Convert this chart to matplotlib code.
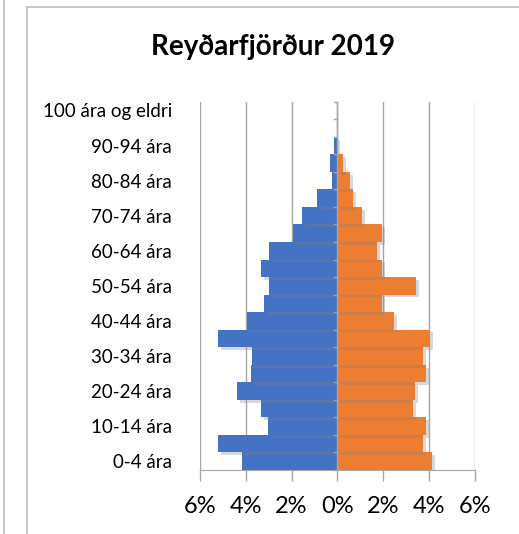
import numpy as np
import matplotlib.pyplot as plt
import matplotlib.patheffects as pe
from matplotlib.lines import Line2D

plt.rcParams['font.family'] = ['Lato', 'DejaVu Sans']

# aldursflokkar, neðst til efst
aldur = ["0-4 ára", "5-9 ára", "10-14 ára", "15-19 ára", "20-24 ára", "25-29 ára",
         "30-34 ára", "35-39 ára", "40-44 ára", "45-49 ára", "50-54 ára", "55-59 ára",
         "60-64 ára", "65-69 ára", "70-74 ára", "75-79 ára", "80-84 ára", "85-89 ára",
         "90-94 ára", "95-99 ára", "100 ára og eldri"]
# hlutfall af íbúafjölda (%)
karlar = [4.17, 5.22, 3.03, 3.34, 4.39, 3.78, 3.73, 5.22, 3.95, 3.21, 2.99, 3.34,
          2.99, 1.94, 1.55, 0.89, 0.23, 0.32, 0.14, 0.0, 0.0]
konur = [4.13, 3.75, 3.87, 3.31, 3.40, 3.87, 3.75, 4.04, 2.47, 1.96, 3.44, 1.96,
         1.74, 1.96, 1.08, 0.69, 0.56, 0.25, 0.0, 0.0, 0.0]
xticks = [-6, -4, -2, 0, 2, 4, 6]

fig = plt.figure(figsize=(5.19, 5.34), dpi=100)
ax = fig.add_axes([0.3854, 0.1199, 0.5292, 0.6897])

y = np.arange(len(aldur))
shadow = [pe.SimplePatchShadow(offset=(2, -2), shadow_rgbFace='#808080', alpha=0.3), pe.Normal()]
ax.barh(y, [-v for v in karlar], height=1.0, color='#4472C4', zorder=3, path_effects=shadow)
ax.barh(y, konur, height=1.0, color='#ED7D31', zorder=3, path_effects=shadow)

ax.set_xlim(-6, 6)
ax.set_ylim(-0.5, len(aldur) - 0.5)
ax.set_xticks(xticks)
ax.set_xticklabels([f"{abs(t)}%" for t in xticks], fontsize=17)
ax.tick_params(axis='x', length=8, color='#A6A6A6', width=1, pad=11)
ax.set_yticks(y[::2])
ax.set_yticklabels(aldur[::2], fontsize=13.5)
ax.tick_params(axis='y', length=0, pad=20)
ax.grid(axis='x', color='#A6A6A6', linewidth=1, zorder=0)

for s in ['left', 'right', 'top']:
    ax.spines[s].set_visible(False)
ax.spines['bottom'].set_color('#A6A6A6')

# lóðréttur ás við 0 með merkjum milli flokka
ax.axvline(0, color='#A6A6A6', linewidth=1, zorder=4)
for b in np.arange(-0.5, len(aldur), 1.0):
    ax.plot([-0.13, 0], [b, b], color='#A6A6A6', linewidth=1, zorder=4, clip_on=False)

fig.text(0.526, 0.912, "Reyðarfjörður 2019", fontsize=20, fontweight='bold',
         ha='center', va='center')

# rammi utan um myndina
fig.add_artist(Line2D([27 / 519, 27 / 519], [0, 1 - 7 / 534], transform=fig.transFigure,
                      color='#BFBFBF', linewidth=1.2))
fig.add_artist(Line2D([27 / 519, 1], [1 - 7 / 534, 1 - 7 / 534], transform=fig.transFigure,
                      color='#BFBFBF', linewidth=1.2))
fig.add_artist(Line2D([4 / 519, 4 / 519], [0, 1], transform=fig.transFigure,
                      color='#BFBFBF', linewidth=1.2))

fig.savefig("out.png", dpi=100)
